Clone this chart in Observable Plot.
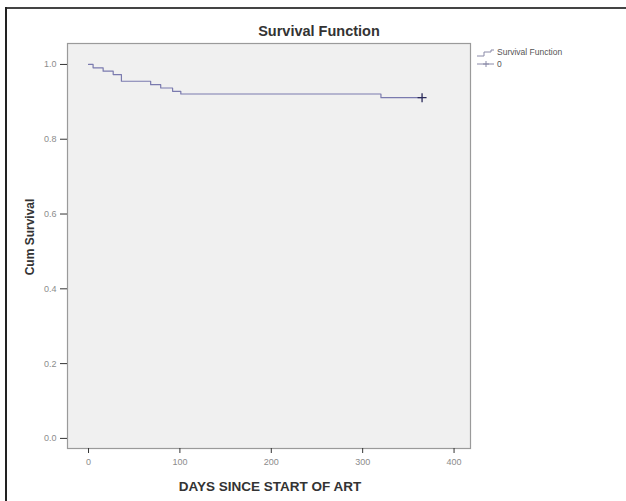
<!DOCTYPE html>
<html>
<head>
<meta charset="utf-8">
<script src="https://cdn.jsdelivr.net/npm/d3@7"></script>
<script src="https://cdn.jsdelivr.net/npm/@observablehq/plot@0.6"></script>
<style>
  html, body { margin: 0; padding: 0; background: #fff; }
  #chart { position: relative; width: 626px; height: 501px; }
  #chart svg { position: absolute; left: 0; top: 0; }
</style>
</head>
<body>
<div id="chart"></div>
<script>
// Kaplan-Meier step points (days, cumulative survival)
const days     = [0,    5,     16,    27,    36,    68,    79,    92,    101,   320,   365];
const survival = [1.0,  0.991, 0.982, 0.973, 0.955, 0.946, 0.937, 0.928, 0.921, 0.911, 0.911];
const censorDays = [365];
const censorSurv = [0.911];
const xTicks = [0, 100, 200, 300, 400];
const yTicks = [0.0, 0.2, 0.4, 0.6, 0.8, 1.0];
const legendLabels = ["Survival Function", "0"];

const curve = days.map((d, i) => ({day: d, s: survival[i]}));
const censored = censorDays.map((d, i) => ({day: d, s: censorSurv[i]}));

const W = 626, H = 501;
const font = "Arial, 'Liberation Sans', sans-serif";
const plot = Plot.plot({
  width: W,
  height: H,
  marginLeft: 67,
  marginRight: 156,
  marginTop: 43,
  marginBottom: 53,
  style: {background: "transparent", fontFamily: font},
  x: {domain: [-23, 418], label: null},
  y: {domain: [-0.027, 1.056], label: null},
  marks: [
    Plot.frame({fill: "#f0f0f0", stroke: "#9a9a9a", strokeWidth: 1.2}),
    Plot.axisX({ticks: xTicks, tickSize: 5, tickPadding: 5, fontSize: 9, fill: "#8c8c8c", stroke: "#333", tickFormat: d3.format("d")}),
    Plot.axisY({ticks: yTicks, tickSize: 7, tickPadding: 4, fontSize: 9, fill: "#8c8c8c", stroke: "#333", tickFormat: d3.format(".1f")}),
    Plot.line(curve, {x: "day", y: "s", curve: "step-after", stroke: "#7a7aae", strokeWidth: 1.2}),
    Plot.dot(censored, {x: "day", y: "s", symbol: "plus", r: 3, stroke: "#2a2a5a", strokeWidth: 1.3}),
    Plot.text(["Survival Function"], {frameAnchor: "top", lineAnchor: "middle", dx: 50, dy: -12, fontSize: 14.5, fontWeight: "bold", fill: "#333"}),
    Plot.text(["DAYS SINCE START OF ART"], {frameAnchor: "bottom", lineAnchor: "middle", textAnchor: "middle", dx: 1, dy: 38, fontSize: 13.5, fontWeight: "bold", fill: "#333", letterSpacing: "0.8px"}),
    Plot.text(["Cum Survival"], {frameAnchor: "left", textAnchor: "middle", lineAnchor: "middle", dx: -37, dy: -9, rotate: -90, fontSize: 12, fontWeight: "bold", fill: "#333"})
  ]
});
document.getElementById("chart").appendChild(plot);

// Legend and outer border drawn as an overlay
const svg = d3.select("#chart").append("svg").attr("width", W).attr("height", H);
// outer border (top and left)
svg.append("line").attr("x1", 5).attr("x2", 626).attr("y1", 8).attr("y2", 8).attr("stroke", "#444").attr("stroke-width", 2);
svg.append("line").attr("x1", 6).attr("x2", 6).attr("y1", 7).attr("y2", 501).attr("stroke", "#222").attr("stroke-width", 2);
// legend
const lg = svg.append("g").attr("font-family", font).attr("font-size", 8.5).attr("fill", "#555");
// step icon
lg.append("path").attr("d", "M477,56 H484 V52 H491 V50 H494").attr("fill", "none").attr("stroke", "#8a8aa8").attr("stroke-width", 1);
lg.append("text").attr("x", 497).attr("y", 55).text(legendLabels[0]);
// line with plus
lg.append("line").attr("x1", 477).attr("x2", 494).attr("y1", 64).attr("y2", 64).attr("stroke", "#8a8aa8").attr("stroke-width", 1);
lg.append("path").attr("d", "M486,61 V67 M483,64 H489").attr("stroke", "#8a8aa8").attr("stroke-width", 1);
lg.append("text").attr("x", 497).attr("y", 67).text(legendLabels[1]);
</script>
</body>
</html>
